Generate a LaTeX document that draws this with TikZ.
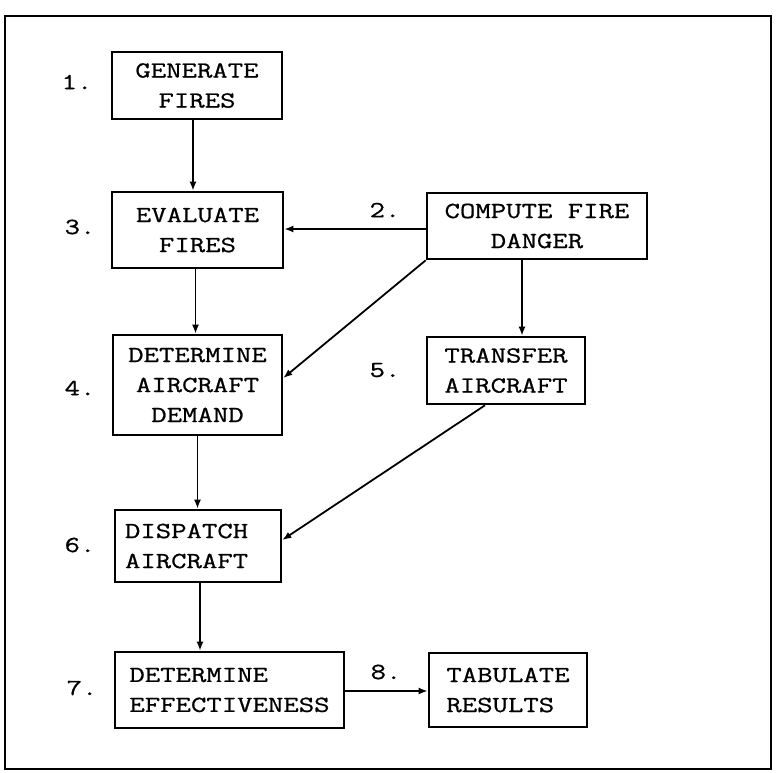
\documentclass[tikz,border=0pt]{standalone}
\usepackage{fontspec}
\newfontfamily\twfont{Latin Modern Mono}[FakeStretch=1.3,FakeBold=0.8]
\usetikzlibrary{arrows.meta}
\tikzset{
  tw/.style={font=\twfont\fontsize{23}{30}\selectfont},
  proc/.style={tw, draw, line width=2.6pt, inner sep=0pt, anchor=center},
  num/.style={tw, inner sep=0pt, anchor=center},
  arr/.style={line width=1.8pt, -{Latex[length=9pt,width=7pt]}},
}
\begin{document}
\begin{tikzpicture}[x=1pt,y=-1pt]
\useasboundingbox (0,0) rectangle (777,772);
% outer frame
\draw[line width=2.6pt] (5,16) rectangle (771,769);
% boxes
\node[proc, minimum width=170pt, minimum height=67pt, align=center] (gen) at (197,85.5) {GENERATE\\FIRES};
\node[proc, minimum width=171pt, minimum height=76pt, align=center] (eval) at (197.5,230) {EVALUATE\\FIRES};
\node[proc, minimum width=220pt, minimum height=66pt, align=center] (comp) at (537,226) {COMPUTE FIRE\\DANGER};
\node[proc, minimum width=169pt, minimum height=100pt, align=center] (dem) at (197.5,385) {DETERMINE\\AIRCRAFT\\DEMAND};
\node[proc, minimum width=158pt, minimum height=67pt, align=center] (trans) at (506,370.5) {TRANSFER\\AIRCRAFT};
\node[proc, minimum width=166pt, minimum height=72pt, text width=146pt, align=left] (disp) at (198,546) {DISPATCH\\AIRCRAFT};
\node[proc, minimum width=229pt, minimum height=76pt, align=left] (eff) at (229.5,690) {DETERMINE\\EFFECTIVENESS};
\node[proc, minimum width=158pt, minimum height=74pt, align=left] (tab) at (508,690) {TABULATE\\RESULTS};
% step numbers
\node[num] (n1) at (77,82) {1.};
\node[num] (n2) at (385,210) {2.};
\node[num] (n3) at (80,227) {3.};
\node[num] (n4) at (80,388) {4.};
\node[num] (n5) at (385,370) {5.};
\node[num] (n6) at (80,545) {6.};
\node[num] (n7) at (82,688) {7.};
\node[num] (n8) at (386,672) {8.};
% connectors
\draw[arr] ([xshift=-4pt]gen.south) -- ([xshift=-4pt]gen.south |- eval.north);
\draw[arr] ([xshift=-2pt]eval.south) -- ([xshift=-2pt]eval.south |- dem.north);
\draw[arr] (dem.south) -- (dem.south |- disp.north);
\draw[arr] ([xshift=2pt]disp.south) -- ([xshift=2pt]disp.south |- eff.north);
\draw[arr] ([yshift=-3pt]comp.west) -- ([yshift=-3pt]comp.west -| eval.east);
\draw[arr] (comp.south west) -- ([yshift=7pt]dem.east);
\draw[arr] ([xshift=-15pt]comp.south) -- ([xshift=-15pt]comp.south |- trans.north);
\draw[arr] ([xshift=-21pt]trans.south) -- ([yshift=6pt]disp.east);
\draw[arr] ([yshift=-1pt]eff.east) -- ([yshift=-1pt]eff.east -| tab.west);
\end{tikzpicture}
\end{document}
